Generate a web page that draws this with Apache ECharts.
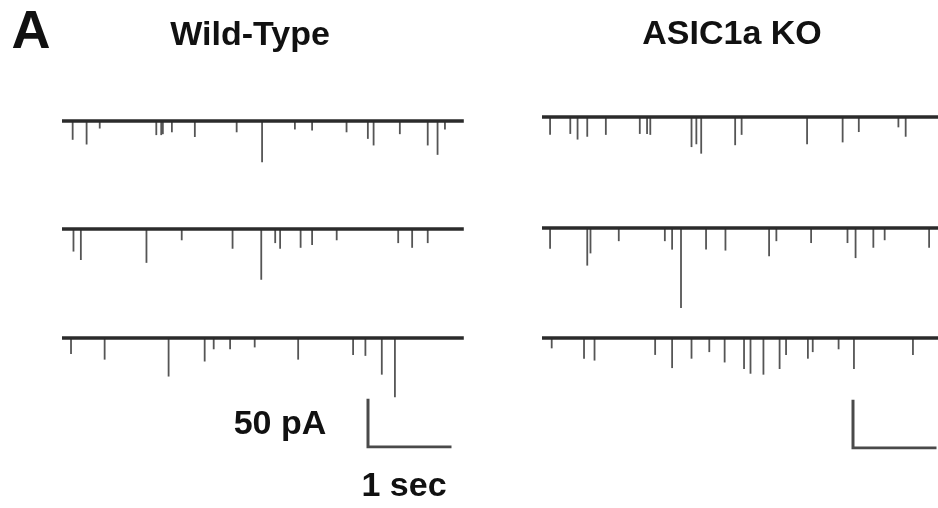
<!DOCTYPE html>
<html>
<head>
<meta charset="utf-8">
<title>Wild-Type vs ASIC1a KO</title>
<script src="https://cdn.jsdelivr.net/npm/echarts@6/dist/echarts.min.js"></script>
<style>
  html, body { margin: 0; padding: 0; background: #fff; }
  #traces { width: 938px; height: 508px; }
</style>
</head>
<body>
<div id="traces"></div>
<script>
// sweep length in seconds and amplitude window in pA
var sweepSec = 4.9;
var yMin = -95, yMax = 10;

// events: [time (s), amplitude (pA, downward)]
var wtSweep1 = [[0.13,20],[0.30,25],[0.46,8],[1.15,15],[1.21,15],[1.23,14],[1.34,12],[1.62,17],[2.13,12],
	[2.44,44],[2.84,9],[3.05,10],[3.47,12],[3.73,19],[3.80,26],[4.12,14],[4.46,26],[4.58,36],[4.67,9]];
var wtSweep2 = [[0.14,24],[0.23,33],[1.03,36],[1.46,12],[2.08,21],[2.43,54],[2.60,15],[2.66,21],[2.91,20],
	[3.05,17],[3.35,12],[4.10,15],[4.27,20],[4.46,15]];
var wtSweep3 = [[0.11,17],[0.52,23],[1.30,41],[1.74,25],[1.85,12],[2.05,12],[2.35,10],[2.88,23],[3.55,18],
	[3.70,19],[3.90,39],[4.06,63]];
var koSweep1 = [[0.10,19],[0.35,18],[0.44,24],[0.56,21],[0.79,19],[1.21,18],[1.30,18],[1.34,19],[1.85,32],
	[1.91,29],[1.97,39],[2.39,30],[2.47,19],[3.28,29],[3.72,27],[3.92,16],[4.41,11],[4.50,21]];
var koSweep2 = [[0.10,22],[0.56,40],[0.60,27],[0.95,14],[1.52,14],[1.61,23],[1.72,85],[2.03,23],[2.27,24],
	[2.81,30],[2.90,14],[3.33,16],[3.78,16],[3.88,32],[4.10,21],[4.24,13],[4.79,21]];
var koSweep3 = [[0.12,11],[0.52,22],[0.65,24],[1.40,18],[1.61,32],[1.85,22],[2.07,15],[2.26,26],[2.50,33],
	[2.58,38],[2.74,39],[2.94,33],[3.02,18],[3.29,22],[3.35,15],[3.67,12],[3.86,33],[4.59,18]];

// scale bar: 1 sec by 50 pA
var scaleBar = [[0,50],[0,0],[1,0]];

var chart = echarts.init(document.getElementById('traces'));

var pxPerSec = 82, pxPerPA = 0.94;
// baseline pixel rows of the six sweeps
var panels = [
	{ data: wtSweep1, left: 62, base: 121 },
	{ data: wtSweep2, left: 62, base: 229 },
	{ data: wtSweep3, left: 62, base: 338 },
	{ data: koSweep1, left: 542, base: 117 },
	{ data: koSweep2, left: 542, base: 228 },
	{ data: koSweep3, left: 542, base: 338 }
];

var grids = [], xAxes = [], yAxes = [], series = [];

function hiddenAxis(type, min, max, idx) {
	return { type: type, min: min, max: max, gridIndex: idx, show: false,
		splitLine: { show: false }, axisLine: { show: false } };
}

panels.forEach(function(p, i) {
	grids.push({
		left: p.left,
		top: p.base - yMax * pxPerPA,
		width: sweepSec * pxPerSec,
		height: (yMax - yMin) * pxPerPA
	});
	xAxes.push(hiddenAxis('value', 0, sweepSec, i));
	yAxes.push(hiddenAxis('value', yMin, yMax, i));
	// each event as a thin downward bar
	series.push({
		type: 'bar',
		xAxisIndex: i, yAxisIndex: i,
		barWidth: 1.8,
		silent: true,
		itemStyle: { color: '#555' },
		data: p.data.map(function(e) { return [e[0], -e[1]]; }),
		z: 2
	});
	// holding current baseline
	series.push({
		type: 'line',
		xAxisIndex: i, yAxisIndex: i,
		symbol: 'none',
		silent: true,
		lineStyle: { color: '#2b2b2b', width: 3.5 },
		data: [[0, 0], [sweepSec, 0]],
		z: 3
	});
});

// two scale bars
[{ left: 368, top: 400 }, { left: 853, top: 401 }].forEach(function(s) {
	var i = grids.length;
	grids.push({ left: s.left, top: s.top, width: pxPerSec, height: 50 * pxPerPA });
	xAxes.push(hiddenAxis('value', 0, 1, i));
	yAxes.push(hiddenAxis('value', 0, 50, i));
	series.push({
		type: 'line',
		xAxisIndex: i, yAxisIndex: i,
		symbol: 'none',
		silent: true,
		lineStyle: { color: '#4a4a4a', width: 3, cap: 'square', join: 'miter' },
		data: scaleBar
	});
});

function label(text, x, y, size) {
	return {
		type: 'text', x: x, y: y,
		style: {
			text: text,
			font: 'bold ' + size + 'px "Liberation Sans", Arial, sans-serif',
			fill: '#111',
			align: 'center',
			verticalAlign: 'middle'
		}
	};
}

var option = {
	backgroundColor: '#fff',
	animation: false,
	grid: grids,
	xAxis: xAxes,
	yAxis: yAxes,
	series: series,
	graphic: [
		label('A', 31, 33, 54),
		label('Wild-Type', 250, 36, 34),
		label('ASIC1a KO', 732, 35, 34),
		label('50 pA', 280, 425, 34),
		label('1 sec', 404, 487, 34)
	]
};

chart.setOption(option);
</script>
</body>
</html>
